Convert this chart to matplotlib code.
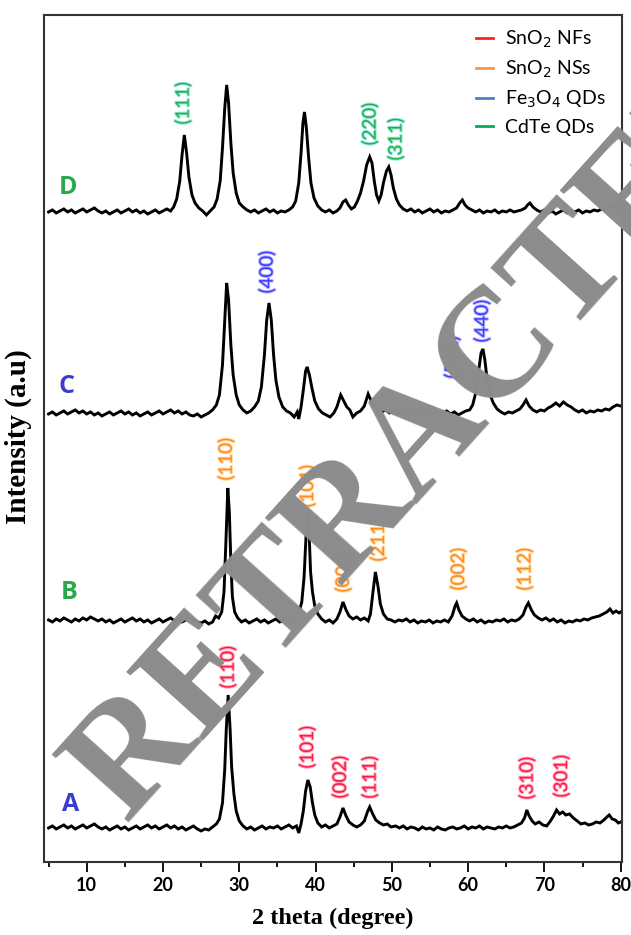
import matplotlib
matplotlib.use('Agg')
import matplotlib.pyplot as plt
import matplotlib.patheffects as pe
from matplotlib.lines import Line2D

# XRD traces: (2theta, intensity above own baseline)
trace_a = [(5.0, 1), (5.5, 3), (6.0, 0), (6.5, 2), (7.0, 4), (7.5, 1), (8.0, 3), (8.5, 0), (9.0, 2), (9.5, 4),
           (10.0, 1), (10.5, 3), (11.0, 5), (11.5, 2), (12.0, 0), (12.5, 2), (13.0, -1), (13.5, 1), (14.0, 3),
           (14.5, 0), (15.0, 2), (15.5, -1), (16.0, 1), (16.5, 3), (17.0, 0), (17.5, 2), (18.0, 4), (18.5, 1),
           (19.0, 3), (19.5, 0), (20.0, 2), (20.5, 4), (21.0, 1), (21.5, 3), (22.0, 0), (22.5, 2), (23.0, -1),
           (23.5, 1), (24.0, 3), (24.5, 0), (25.0, -2), (25.5, 0), (26.0, -1), (26.5, 2), (27.0, 5), (27.4, 10),
           (27.8, 26), (28.1, 60), (28.3, 100), (28.55, 134), (28.8, 100), (29.0, 62), (29.3, 35), (29.6, 18),
           (30.0, 8), (30.5, 3), (31.0, 0), (31.5, 2), (32.0, -1), (32.5, 1), (33.0, 3), (33.5, 0), (34.0, 2),
           (34.5, 1), (35.0, 3), (35.5, 0), (36.0, 2), (36.5, 4), (37.0, 1), (37.5, 3), (37.8, -4), (38.1, 5),
           (38.4, 18), (38.7, 38), (39.0, 49), (39.3, 42), (39.6, 26), (39.9, 14), (40.3, 6), (40.8, 2),
           (41.3, 4), (41.8, 1), (42.3, 3), (42.8, 5), (43.2, 12), (43.6, 21), (44.0, 13), (44.4, 7), (44.9, 4),
           (45.4, 2), (45.9, 4), (46.4, 8), (46.8, 17), (47.1, 22), (47.5, 15), (47.9, 9), (48.4, 6), (48.9, 4),
           (49.4, 5), (49.9, 2), (50.5, 3), (51.0, 1), (51.5, 3), (52.0, 0), (52.5, 2), (53.0, 1), (53.5, -1),
           (54.0, 2), (54.5, 0), (55.0, 1), (55.5, -1), (56.0, 2), (56.5, 0), (57.0, -1), (57.5, 1), (58.0, 2),
           (58.5, 0), (59.0, 1), (59.5, 3), (60.0, 0), (60.5, 2), (61.0, 1), (61.5, 3), (62.0, 0), (62.5, 2),
           (63.0, 1), (63.5, 0), (64.0, 2), (64.5, 1), (65.0, 3), (65.5, 1), (66.0, 2), (66.5, 4), (67.0, 6),
           (67.4, 11), (67.7, 19), (68.0, 13), (68.4, 8), (68.8, 5), (69.3, 7), (69.8, 4), (70.3, 3), (70.8, 8),
           (71.2, 13), (71.6, 19), (72.0, 15), (72.4, 17), (72.8, 14), (73.3, 15), (73.8, 11), (74.3, 8),
           (74.8, 5), (75.3, 6), (75.8, 4), (76.3, 5), (76.8, 7), (77.3, 6), (77.8, 9), (78.2, 12), (78.5, 14),
           (78.9, 10), (79.3, 9), (79.7, 6), (80.0, 7)]

trace_b = [(5.0, 2), (5.5, 0), (6.0, 3), (6.5, 1), (7.0, 4), (7.5, 2), (8.0, 0), (8.5, 3), (9.0, 1), (9.5, 4),
           (10.0, 2), (10.5, 5), (11.0, 3), (11.5, 1), (12.0, 3), (12.5, 0), (13.0, 2), (13.5, -1), (14.0, 1),
           (14.5, 3), (15.0, 0), (15.5, 2), (16.0, 4), (16.5, 1), (17.0, 3), (17.5, 0), (18.0, 2), (18.5, -1),
           (19.0, 1), (19.5, 3), (20.0, 0), (20.5, 2), (21.0, 4), (21.5, 1), (22.0, 3), (22.5, 0), (23.0, 2),
           (23.5, 5), (24.0, 2), (24.5, 0), (25.0, -1), (25.5, 1), (26.0, -2), (26.5, 0), (26.9, 6), (27.3, 4),
           (27.7, 10), (28.0, 30), (28.25, 80), (28.5, 134), (28.7, 110), (28.9, 60), (29.1, 25), (29.4, 10),
           (29.8, 4), (30.3, 0), (30.8, 2), (31.3, -1), (31.8, 1), (32.3, 3), (32.8, 0), (33.3, 2), (33.8, -1),
           (34.3, 1), (34.8, 3), (35.3, 0), (35.8, 2), (36.3, 4), (36.8, 2), (37.3, 5), (37.8, 9), (38.2, 20),
           (38.5, 45), (38.75, 85), (38.95, 109), (39.15, 90), (39.35, 50), (39.6, 30), (39.9, 16), (40.3, 8),
           (40.8, 3), (41.3, 0), (41.8, 2), (42.3, -1), (42.8, 3), (43.2, 10), (43.6, 20), (44.0, 12), (44.4, 6),
           (44.9, 3), (45.4, 5), (45.9, 2), (46.4, 4), (46.9, 1), (47.2, 8), (47.5, 28), (47.85, 50), (48.2, 35),
           (48.5, 18), (48.9, 8), (49.4, 3), (49.9, 2), (50.4, 0), (50.9, 2), (51.4, 1), (51.9, 3), (52.4, 0),
           (52.9, 2), (53.4, -1), (53.9, 1), (54.4, 0), (54.9, 2), (55.4, -1), (55.9, 1), (56.4, 0), (56.9, 2),
           (57.4, 0), (57.9, 6), (58.3, 16), (58.5, 19), (58.8, 12), (59.2, 6), (59.7, 3), (60.2, 1), (60.7, 3),
           (61.2, 0), (61.7, 2), (62.2, -1), (62.7, 1), (63.2, 0), (63.7, 2), (64.2, 1), (64.7, 3), (65.2, 0),
           (65.7, 2), (66.2, 1), (66.7, 3), (67.2, 7), (67.6, 15), (67.9, 19), (68.3, 12), (68.7, 7), (69.2, 4),
           (69.7, 2), (70.2, 4), (70.7, 1), (71.2, 3), (71.7, 0), (72.2, 2), (72.7, -1), (73.2, 1), (73.7, 0),
           (74.2, 2), (74.7, 1), (75.2, 3), (75.7, 2), (76.2, 4), (76.7, 5), (77.2, 6), (77.7, 8), (78.2, 10),
           (78.6, 13), (79.0, 9), (79.4, 11), (79.8, 9), (80.0, 10)]

trace_c = [(5.0, 1), (5.5, 3), (6.0, 0), (6.5, 2), (7.0, 4), (7.5, 1), (8.0, 3), (8.5, 5), (9.0, 2), (9.5, 4),
           (10.0, 1), (10.5, 3), (11.0, 0), (11.5, 2), (12.0, -1), (12.5, 1), (13.0, 3), (13.5, 0), (14.0, 2),
           (14.5, 4), (15.0, 1), (15.5, 3), (16.0, 0), (16.5, 2), (17.0, -1), (17.5, 1), (18.0, 3), (18.5, 0),
           (19.0, 2), (19.5, 4), (20.0, 1), (20.5, 3), (21.0, 5), (21.5, 2), (22.0, 4), (22.5, 1), (23.0, 3),
           (23.5, 0), (24.0, -1), (24.5, 1), (25.0, -2), (25.5, 0), (26.0, 2), (26.5, 5), (27.0, 10), (27.4, 20),
           (27.8, 50), (28.1, 95), (28.35, 132), (28.6, 115), (28.9, 70), (29.2, 40), (29.6, 20), (30.0, 10),
           (30.5, 5), (31.0, 2), (31.5, 4), (32.0, 8), (32.5, 14), (32.9, 28), (33.3, 60), (33.6, 95), (33.9, 112),
           (34.2, 95), (34.5, 60), (34.8, 35), (35.2, 18), (35.7, 8), (36.2, 4), (36.7, 2), (37.2, -2), (37.6, 3),
           (37.8, -4), (38.1, 8), (38.4, 25), (38.7, 44), (38.9, 48), (39.2, 40), (39.5, 28), (39.9, 14),
           (40.4, 6), (40.9, 2), (41.4, 0), (41.9, -2), (42.4, 2), (42.8, 8), (43.3, 20), (43.7, 14), (44.1, 8),
           (44.5, 5), (44.9, -2), (45.4, 2), (45.9, 4), (46.4, 9), (46.9, 21), (47.3, 14), (47.7, 9), (48.2, 6),
           (48.7, 3), (49.2, 5), (49.7, 2), (50.2, 4), (50.7, 1), (51.2, 3), (51.7, 0), (52.2, 2), (52.7, 4),
           (53.2, 1), (53.7, 3), (54.2, 2), (54.7, 4), (55.2, 1), (55.7, 3), (56.2, 0), (56.7, 2), (57.2, 4),
           (57.7, 1), (58.2, 3), (58.7, 0), (59.2, 2), (59.7, 4), (60.2, 5), (60.6, 10), (61.0, 22), (61.4, 45),
           (61.7, 62), (61.95, 66), (62.2, 55), (62.5, 35), (62.9, 20), (63.3, 12), (63.8, 6), (64.3, 3),
           (64.8, 1), (65.3, 3), (65.8, 2), (66.3, 4), (66.8, 6), (67.2, 10), (67.6, 15), (68.0, 9), (68.5, 5),
           (69.0, 3), (69.5, 5), (70.0, 4), (70.5, 7), (71.0, 9), (71.5, 12), (72.0, 9), (72.5, 13), (73.0, 10),
           (73.5, 8), (74.0, 5), (74.5, 3), (75.0, 5), (75.5, 2), (76.0, 4), (76.5, 3), (77.0, 5), (77.5, 4),
           (78.0, 6), (78.5, 5), (79.0, 8), (79.5, 10), (80.0, 9)]

trace_d = [(5.0, 1), (5.5, 3), (6.0, 0), (6.5, 2), (7.0, 4), (7.5, 1), (8.0, 3), (8.5, 0), (9.0, 2), (9.5, 4),
           (10.0, 1), (10.5, 3), (11.0, 5), (11.5, 2), (12.0, 0), (12.5, 2), (13.0, -1), (13.5, 1), (14.0, 3),
           (14.5, 0), (15.0, 2), (15.5, 4), (16.0, 1), (16.5, 3), (17.0, 0), (17.5, 2), (18.0, -1), (18.5, 1),
           (19.0, 3), (19.5, 0), (20.0, 2), (20.5, 4), (21.0, 2), (21.4, 6), (21.8, 14), (22.2, 32), (22.5, 58),
           (22.8, 78), (23.1, 60), (23.4, 36), (23.8, 18), (24.2, 10), (24.7, 5), (25.2, 2), (25.7, -2), (26.2, 2),
           (26.7, 6), (27.1, 14), (27.5, 32), (27.8, 65), (28.1, 105), (28.35, 128), (28.6, 110), (28.9, 70),
           (29.2, 40), (29.6, 20), (30.0, 10), (30.5, 6), (31.0, 3), (31.5, 1), (32.0, 3), (32.5, 0), (33.0, 2),
           (33.5, 4), (34.0, 1), (34.5, 3), (35.0, 0), (35.5, 2), (36.0, 1), (36.5, 3), (37.0, 6), (37.4, 12),
           (37.8, 30), (38.1, 60), (38.35, 90), (38.55, 101), (38.8, 85), (39.1, 55), (39.4, 30), (39.8, 15),
           (40.3, 7), (40.8, 3), (41.3, 1), (41.8, 3), (42.3, 0), (42.8, 2), (43.2, 5), (43.6, 11), (43.95, 13),
           (44.3, 8), (44.7, 4), (45.1, 6), (45.5, 12), (45.9, 20), (46.3, 32), (46.7, 48), (47.1, 56), (47.4, 50),
           (47.7, 32), (48.0, 18), (48.3, 12), (48.6, 18), (48.9, 30), (49.3, 42), (49.6, 46), (49.9, 38),
           (50.2, 25), (50.6, 14), (51.0, 8), (51.5, 4), (52.0, 2), (52.5, 4), (53.0, 1), (53.5, 3), (54.0, 0),
           (54.5, 2), (55.0, 4), (55.5, 1), (56.0, 3), (56.5, 0), (57.0, 2), (57.5, 1), (58.0, 3), (58.5, 5),
           (58.9, 10), (59.25, 13), (59.6, 8), (60.0, 5), (60.5, 3), (61.0, 1), (61.5, 3), (62.0, 0), (62.5, 2),
           (63.0, 1), (63.5, 3), (64.0, 0), (64.5, 2), (65.0, 1), (65.5, 3), (66.0, 1), (66.5, 2), (67.0, 3),
           (67.5, 5), (67.8, 8), (68.1, 10), (68.5, 6), (69.0, 3), (69.5, 1), (70.0, 3), (70.5, 0), (71.0, 2),
           (71.5, -1), (72.0, 1), (72.5, 3), (73.0, 0), (73.5, 2), (74.0, 1), (74.5, 3), (75.0, 0), (75.5, 2),
           (76.0, 1), (76.5, 3), (77.0, 2), (77.5, 4), (78.0, 3), (78.5, 6), (78.8, 8), (79.2, 5), (79.6, 2),
           (80.0, 3)]

traces = [trace_a, trace_b, trace_c, trace_d]
offsets = [33, 240, 447, 649]
sample_names = ['A', 'B', 'C', 'D']
sample_colors = ['#3b3bd0', '#2aa84a', '#3b3bd0', '#2aa84a']
sample_pos = [(7.9, 57), (7.7, 269), (7.4, 475), (7.55, 674)]

# peak indices: (label, 2theta, y position)
hkl_a = [('(110)', 28.5, 195), ('(101)', 38.9, 115), ('(002)', 43.2, 85), ('(111)', 47.1, 85),
         ('(310)', 67.7, 84), ('(301)', 72.2, 86)]
hkl_b = [('(110)', 28.25, 403), ('(101)', 38.9, 376), ('(002)', 43.6, 291), ('(211)', 48.2, 322),
         ('(002)', 58.7, 293), ('(112)', 67.4, 293)]
hkl_c = [('(400)', 33.6, 590), ('(511)', 57.9, 505), ('(440)', 61.8, 541)]
hkl_d = [('(111)', 22.6, 759), ('(220)', 47.1, 738), ('(311)', 50.5, 723)]
hkl_sets = [hkl_a, hkl_b, hkl_c, hkl_d]
hkl_colors = ['#ff1744', '#ff8a1f', '#3a3aff', '#1fb04c']
hkl_halo = ['#ffb0c0', '#ffd9a0', '#b8b8ff', '#9ee8e0']

legend_labels = ['SnO$_2$ NFs', 'SnO$_2$ NSs', 'Fe$_3$O$_4$ QDs', 'CdTe QDs']
legend_colors = ['#ff2020', '#f79646', '#4f81bd', '#00b050']

fig = plt.figure(figsize=(6.31, 9.35), dpi=100)
ax = fig.add_axes([0.0697, 0.0781, 0.9163, 0.9059])

for tr, off in zip(traces, offsets):
    xs = [p[0] for p in tr]
    ys = [p[1] + off for p in tr]
    ax.plot(xs, ys, color='black', lw=2.1, solid_joinstyle='miter')

for name, col, (sx, sy) in zip(sample_names, sample_colors, sample_pos):
    ax.text(sx, sy, name, color=col, fontsize=18, fontweight='bold', family='Open Sans',
            ha='center', va='center')

for hkls, col, halo in zip(hkl_sets, hkl_colors, hkl_halo):
    for lab, hx, hy in hkls:
        ax.text(hx, hy, lab, color=col, fontsize=13.5, family='Lato', rotation=90,
                ha='center', va='center',
                path_effects=[pe.withStroke(linewidth=1.5, foreground=halo)])

handles = [Line2D([0], [0], color=c, lw=2) for c in legend_colors]
ax.legend(handles, legend_labels, loc='upper right', frameon=False,
          prop={'family': 'Lato', 'size': 14}, handlelength=0.9, handletextpad=0.6,
          labelspacing=0.45, borderaxespad=0.3, bbox_to_anchor=(0.995, 1.0))

ax.set_xlim(4.4, 80.2)
ax.set_ylim(0, 847)
ax.set_xticks(range(10, 81, 10))
ax.set_xticks(range(5, 80, 10), minor=True)
ax.set_yticks([])
ax.tick_params(axis='x', which='major', direction='out', length=7, width=1.3, pad=4,
               labelsize=13)
ax.tick_params(axis='x', which='minor', direction='out', length=3.5, width=1.3)
for lbl in ax.get_xticklabels():
    lbl.set_fontweight('bold')
    lbl.set_family('Lato')
for sp in ax.spines.values():
    sp.set_linewidth(1.5)
    sp.set_color('#333333')

ax.set_xlabel('2 theta (degree)', fontsize=17.5, fontweight='bold', family='Liberation Serif')
ax.xaxis.set_label_coords(0.5, -0.054)
ax.set_ylabel('Intensity (a.u)', fontsize=21, fontweight='bold', family='Liberation Serif')
ax.yaxis.set_label_coords(-0.020, 0.502)

# watermark
fig.text(0.672, 0.534, 'RETRACTED', rotation=48, fontsize=112, fontweight='bold',
         family='Liberation Serif', color='#8c8c8c', ha='center', va='center',
         rotation_mode='anchor', zorder=10)

fig.savefig('out.png', dpi=100)
